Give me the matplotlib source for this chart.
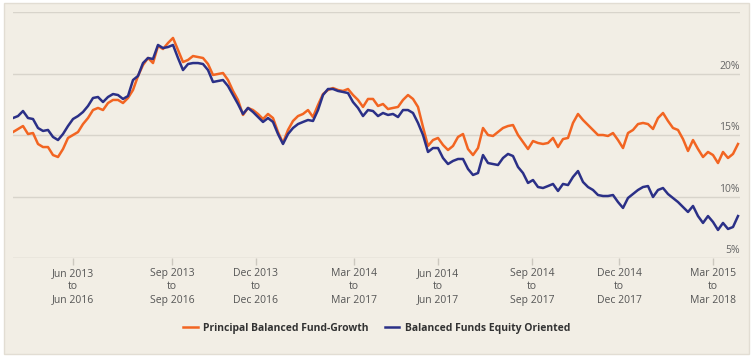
import pandas as pd
import matplotlib.pyplot as plt
from matplotlib.patches import Rectangle

# rolling 3-year returns (%), one point every 5 days from 2013-04-02
start_date = "2013-04-02"

principal = [
    15.24, 15.49, 15.73, 15.08, 15.16, 14.27, 14.02, 14.02, 13.37, 13.21,
    13.86, 14.76, 15.00, 15.24, 15.89, 16.38, 17.03, 17.20, 17.03, 17.60,
    17.85, 17.85, 17.60, 18.01, 18.66, 19.80, 20.69, 21.26, 20.85, 22.24,
    21.99, 22.48, 22.89, 21.91, 20.93, 21.10, 21.42, 21.34, 21.26, 20.77,
    19.88, 19.96, 20.04, 19.47, 18.58, 17.85, 16.63, 17.20, 17.03, 16.71,
    16.30, 16.71, 16.38, 15.24, 14.35, 15.41, 16.14, 16.54, 16.71, 17.03,
    16.46, 17.44, 18.33, 18.66, 18.82, 18.66, 18.58, 18.74, 18.25, 17.85,
    17.28, 17.93, 17.93, 17.36, 17.52, 17.11, 17.20, 17.28, 17.85, 18.25,
    17.93, 17.28, 15.65, 14.11, 14.59, 14.76, 14.19, 13.78, 14.11, 14.84,
    15.08, 13.86, 13.37, 13.94, 15.57, 15.00, 14.92, 15.24, 15.57, 15.73,
    15.81, 15.00, 14.43, 13.86, 14.51, 14.35, 14.27, 14.35, 14.76, 14.02,
    14.67, 14.76, 15.98, 16.71, 16.22, 15.81, 15.41, 15.00, 15.00, 14.92,
    15.16, 14.59, 13.94, 15.16, 15.41, 15.89, 15.98, 15.89, 15.49, 16.38,
    16.79, 16.14, 15.57, 15.41, 14.67, 13.70, 14.59, 13.86, 13.21, 13.62,
    13.37, 12.72, 13.62, 13.13, 13.46, 14.27,
]

category = [
    16.38, 16.54, 16.95, 16.38, 16.30, 15.57, 15.33, 15.41, 14.84, 14.59,
    15.08, 15.73, 16.30, 16.54, 16.87, 17.36, 18.01, 18.09, 17.68, 18.09,
    18.33, 18.25, 17.93, 18.17, 19.47, 19.80, 20.85, 21.26, 21.18, 22.32,
    22.07, 22.15, 22.32, 21.26, 20.28, 20.77, 20.85, 20.85, 20.77, 20.28,
    19.31, 19.39, 19.47, 18.98, 18.25, 17.52, 16.71, 17.20, 16.87, 16.46,
    16.06, 16.38, 16.06, 15.08, 14.27, 15.08, 15.57, 15.89, 16.06, 16.22,
    16.14, 17.03, 18.25, 18.74, 18.74, 18.58, 18.50, 18.41, 17.68, 17.20,
    16.54, 17.03, 16.95, 16.54, 16.79, 16.63, 16.71, 16.46, 17.03, 17.03,
    16.79, 15.98, 15.00, 13.62, 13.94, 13.94, 13.13, 12.64, 12.89, 13.05,
    13.05, 12.24, 11.75, 11.91, 13.37, 12.72, 12.64, 12.56, 13.13, 13.46,
    13.29, 12.40, 11.91, 11.10, 11.34, 10.77, 10.69, 10.85, 11.02, 10.45,
    11.02, 10.93, 11.59, 12.07, 11.18, 10.77, 10.53, 10.12, 10.04, 10.04,
    10.12, 9.55, 9.07, 9.88, 10.20, 10.53, 10.77, 10.85, 9.96, 10.53,
    10.69, 10.20, 9.88, 9.55, 9.15, 8.74, 9.23, 8.41, 7.85, 8.41,
    7.93, 7.28, 7.85, 7.36, 7.52, 8.41,
]

tick_dates = ["2013-06-01", "2013-09-08", "2013-12-01", "2014-03-09",
              "2014-06-01", "2014-09-03", "2014-11-29", "2015-03-03"]
tick_labels = ["Jun 2013\nto\nJun 2016", "Sep 2013\nto\nSep 2016",
               "Dec 2013\nto\nDec 2016", "Mar 2014\nto\nMar 2017",
               "Jun 2014\nto\nJun 2017", "Sep 2014\nto\nSep 2017",
               "Dec 2014\nto\nDec 2017", "Mar 2015\nto\nMar 2018"]
y_ticks = [5, 10, 15, 20, 25]

names = ["Principal Balanced Fund-Growth", "Balanced Funds Equity Oriented"]
colors = ["#f26522", "#2b3087"]

plt.rcParams['font.family'] = ['Open Sans', 'DejaVu Sans']

fig = plt.figure(figsize=(7.53, 3.6), dpi=100)
fig.patch.set_facecolor("white")

# panel background
fig.patches.append(Rectangle((4 / 753, 1 - 354 / 360), 745 / 753, 351 / 360,
                             transform=fig.transFigure, facecolor="#f2eee5",
                             edgecolor="#e2ddd3", linewidth=1, zorder=-10))

ax = fig.add_axes([13 / 753, 1 - 258 / 360, 727 / 753, 246 / 360])
ax.set_facecolor("none")

d1 = pd.date_range(start_date, periods=len(principal), freq="5D")
d2 = pd.date_range(start_date, periods=len(category), freq="5D")
ax.plot(d1, principal, color=colors[0], lw=1.8, label=names[0], zorder=3)
ax.plot(d2, category, color=colors[1], lw=1.8, label=names[1], zorder=4)

ax.set_xlim(pd.Timestamp(start_date), pd.Timestamp(start_date) + pd.Timedelta(days=727))
ax.set_ylim(5, 25)

for v in y_ticks:
    ax.axhline(v, color="#d8d4cb" if v > 5 else "#ccc8bf", lw=1, zorder=1)
    if v in (5, 10, 15, 20):
        ax.text(1.0, v + 0.15, f"{v}%", transform=ax.get_yaxis_transform(),
                ha="right", va="bottom", fontsize=7.5, color="#666666")

for s in ax.spines.values():
    s.set_visible(False)
ax.set_yticks([])

ax.set_xticks(pd.to_datetime(tick_dates))
ax.set_xticklabels(tick_labels, fontsize=7.5, color="#555555", linespacing=1.3)
ax.tick_params(axis="x", length=5, width=1, color="#ccc8bf", pad=2)

fig.legend(loc="center", bbox_to_anchor=(0.5, 1 - 328 / 360), ncol=2,
           frameon=False, handlelength=1.4, handletextpad=0.5,
           columnspacing=1.6, prop={"weight": "bold", "size": 7.5},
           labelcolor="#333333")

plt.savefig("out.png", dpi=100, facecolor="white")
